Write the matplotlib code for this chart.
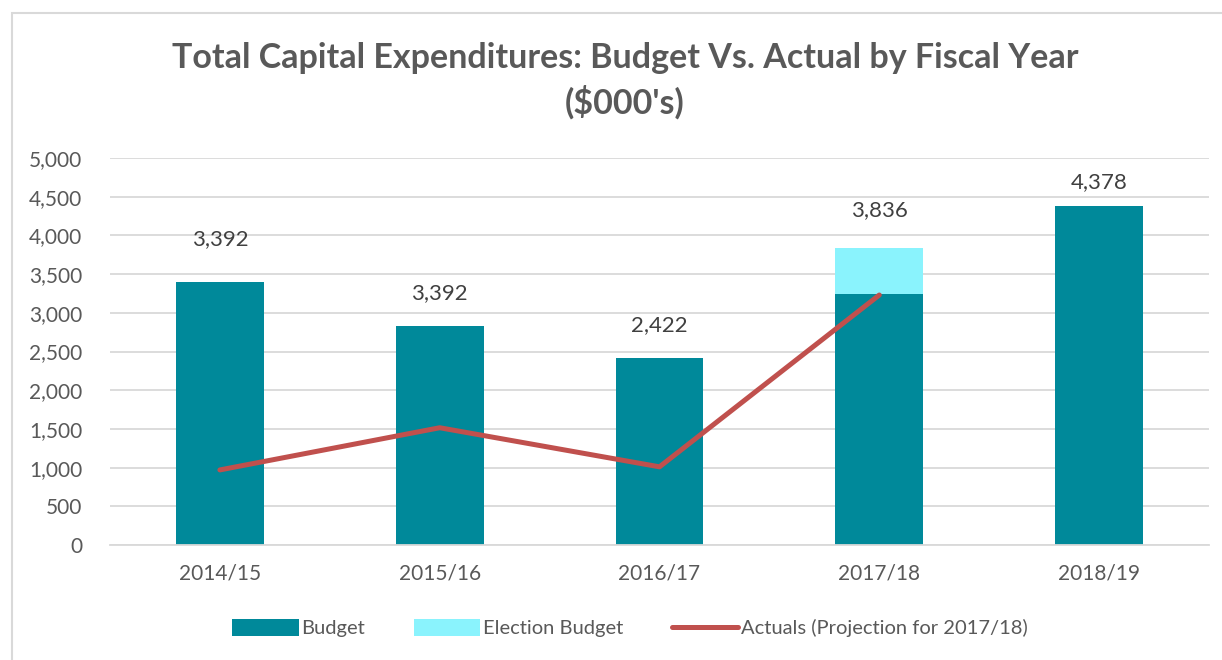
import matplotlib
matplotlib.use("Agg")
import matplotlib.pyplot as plt
import matplotlib.patches as mpatches
import numpy as np

plt.rcParams['font.family'] = ['Lato', 'DejaVu Sans']

years = ['2014/15', '2015/16', '2016/17', '2017/18', '2018/19']
budget = [3392, 2830, 2422, 3243, 4378]
election_budget = [0, 0, 0, 593, 0]
label_values = [3392, 3392, 2422, 3836, 4378]
actual_years = ['2014/15', '2015/16', '2016/17', '2017/18']
actuals = [970, 1515, 1010, 3230]

# offset of each value label above its bar, in points
label_pad = [31, 24, 23, 27, 17]

TEAL = '#00899A'
CYAN = '#8AF3FD'
RED = '#C0504D'
GREY_TEXT = '#595959'
GRID = '#D9D9D9'

fig = plt.figure(figsize=(12.22, 6.6), dpi=100)
ax = fig.add_axes([110 / 1222, 115 / 660, 1099 / 1222, 387 / 660])

x = np.arange(len(years))
b1 = ax.bar(x, budget, width=0.4, color=TEAL, label='Budget', zorder=2)
b2 = ax.bar(x, election_budget, width=0.4, bottom=budget, color=CYAN,
            label='Election Budget', zorder=2)
ln, = ax.plot(np.arange(len(actual_years)), actuals, color=RED, linewidth=3.6,
              solid_capstyle='round', label='Actuals (Projection for 2017/18)',
              zorder=3)

tops = np.array(budget) + np.array(election_budget)
for xi, top, val, pad in zip(x, tops, label_values, label_pad):
    ax.annotate(f'{val:,}', (xi, top), xytext=(0, pad),
                textcoords='offset points', ha='center', va='center',
                fontsize=16, color='#404040')

ax.set_xlim(-0.5, len(years) - 0.5)
ax.set_ylim(0, 5000)
ax.set_yticks(np.arange(0, 5001, 500))
ax.set_yticklabels([f'{v:,}' for v in range(0, 5001, 500)])
ax.set_xticks(x)
ax.set_xticklabels(years)
ax.tick_params(axis='both', length=0, labelsize=15, colors=GREY_TEXT)
ax.tick_params(axis='y', pad=20)
ax.tick_params(axis='x', pad=13)
ax.grid(axis='y', color=GRID, linewidth=1.3, zorder=0)
ax.set_axisbelow(True)
for side in ['top', 'right', 'left']:
    ax.spines[side].set_visible(False)
ax.spines['bottom'].set_color(GRID)
ax.spines['bottom'].set_linewidth(1.3)

fig.text(625 / 1222, 1 - 81 / 660,
         "Total Capital Expenditures: Budget Vs. Actual by Fiscal Year\n($000's)",
         ha='center', va='center', fontsize=24.5, fontweight='bold',
         color=GREY_TEXT, linespacing=1.4)

fig.legend([b1, b2, ln], [b1.get_label(), b2.get_label(), ln.get_label()],
           loc='center', bbox_to_anchor=(630 / 1222, 1 - 628 / 660), ncol=3,
           frameon=False, fontsize=14.5, labelcolor=GREY_TEXT,
           handlelength=3.3, handleheight=0.9, handletextpad=0.15,
           columnspacing=2.4)

border = mpatches.Rectangle((12 / 1222, -0.05), 1.2, 1.05 - 13 / 660,
                            transform=fig.transFigure, fill=False,
                            edgecolor=GRID, linewidth=1.5)
fig.add_artist(border)

fig.savefig('out.png', dpi=100)
